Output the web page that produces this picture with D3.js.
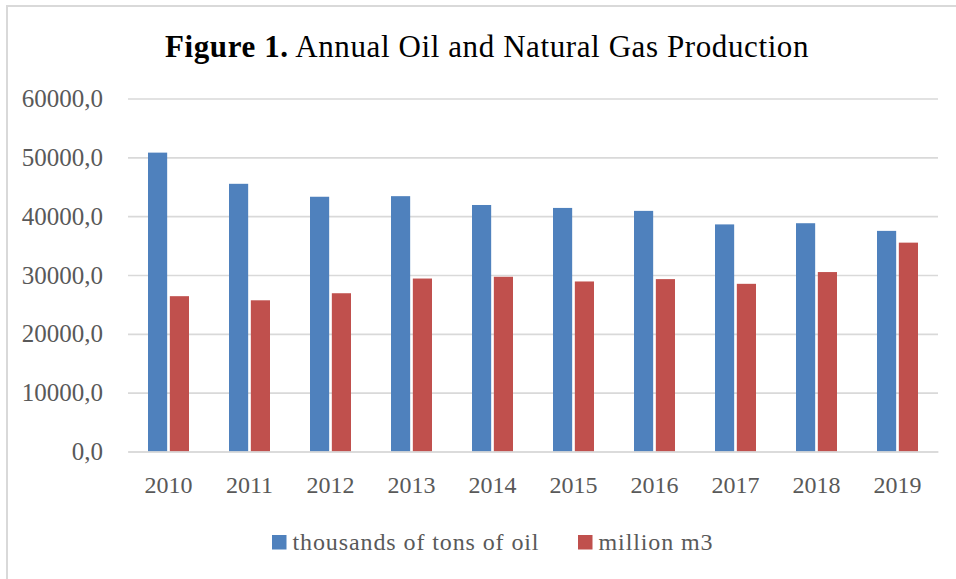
<!DOCTYPE html>
<html>
<head>
<meta charset="utf-8">
<script src="https://cdn.jsdelivr.net/npm/d3@7"></script>
<style>
  html, body { margin: 0; padding: 0; background: #fff; }
  svg { display: block; }
</style>
</head>
<body>
<svg id="chart" width="956" height="579"></svg>
<script>
const years = ["2010","2011","2012","2013","2014","2015","2016","2017","2018","2019"];
const oil = [50800, 45500, 43300, 43400, 41900, 41400, 40900, 38600, 38800, 37500];
const gas = [26400, 25700, 26900, 29400, 29700, 28900, 29300, 28500, 30500, 35500];
const seriesNames = ["thousands of tons of oil", "million m3"];
const seriesColors = ["#4f81bd", "#c0504d"];
const yTicks = [0, 10000, 20000, 30000, 40000, 50000, 60000];

const FONT = "'Liberation Serif', 'DejaVu Serif', serif";
const svg = d3.select("#chart");
const W = 956, H = 579;
const plot = { left: 128, right: 938, top: 98.5, bottom: 451.5 };

// border (partially visible frame)
svg.append("path")
  .attr("d", `M7,${H} L7,6 L${W},6`)
  .attr("fill", "none").attr("stroke", "#d9d9d9").attr("stroke-width", 2);

// title
const title = svg.append("text")
  .attr("x", 487).attr("y", 57)
  .attr("text-anchor", "middle")
  .style("font-family", FONT)
  .style("letter-spacing", "0.6px")
  .attr("font-size", 31).attr("fill", "#000");
title.append("tspan").attr("font-weight", "bold").text("Figure 1.");
title.append("tspan").text(" Annual Oil and Natural Gas Production");

const x0 = d3.scaleBand().domain(years).range([plot.left, plot.right]).paddingInner(0).paddingOuter(0);
const x1 = d3.scaleBand().domain([0, 1]).range([20, x0.bandwidth() - 20]).paddingInner(5/41).paddingOuter(0);
const y = d3.scaleLinear().domain([0, 60000]).range([plot.bottom, plot.top]);

// gridlines + y axis
const yAxis = d3.axisLeft(y).tickValues(yTicks)
  .tickSize(-(plot.right - plot.left))
  .tickPadding(25)
  .tickFormat(d => d3.format(".1f")(d).replace(".", ","));
const gy = svg.append("g").attr("transform", `translate(${plot.left},0)`).call(yAxis);
gy.select(".domain").remove();
gy.selectAll(".tick line").attr("stroke", "#d9d9d9").attr("stroke-width", 1.6);
gy.selectAll(".tick text").attr("font-size", 25).attr("fill", "#595959")
  .style("font-family", FONT);

// bars
const groups = svg.append("g").selectAll("g").data(years).join("g")
  .attr("transform", d => `translate(${x0(d)},0)`);
groups.selectAll("rect").data((d, i) => [oil[i], gas[i]].map((v, s) => ({ v, s })))
  .join("rect")
  .attr("x", d => x1(d.s))
  .attr("width", x1.bandwidth())
  .attr("y", d => y(d.v))
  .attr("height", d => y(0) - y(d.v))
  .attr("fill", d => seriesColors[d.s]);

// x axis
const xAxis = d3.axisBottom(x0).tickSize(0).tickPadding(24);
const gx = svg.append("g").attr("transform", `translate(0,${plot.bottom})`).call(xAxis);
gx.select(".domain").attr("stroke", "#d9d9d9").attr("stroke-width", 1.6);
gx.selectAll(".tick text").attr("font-size", 24).attr("fill", "#595959")
  .style("font-family", FONT);

// legend
const legendItems = [
  { x: 272, name: seriesNames[0], color: seriesColors[0] },
  { x: 578, name: seriesNames[1], color: seriesColors[1] }
];
const lg = svg.append("g").selectAll("g").data(legendItems).join("g")
  .attr("transform", d => `translate(${d.x},535)`);
lg.append("rect").attr("width", 14.5).attr("height", 14.5).attr("fill", d => d.color);
lg.append("text").attr("x", 20.5).attr("y", 15)
  .style("font-family", FONT)
  .style("letter-spacing", "0.9px")
  .attr("font-size", 24).attr("fill", "#595959").text(d => d.name);
</script>
</body>
</html>
